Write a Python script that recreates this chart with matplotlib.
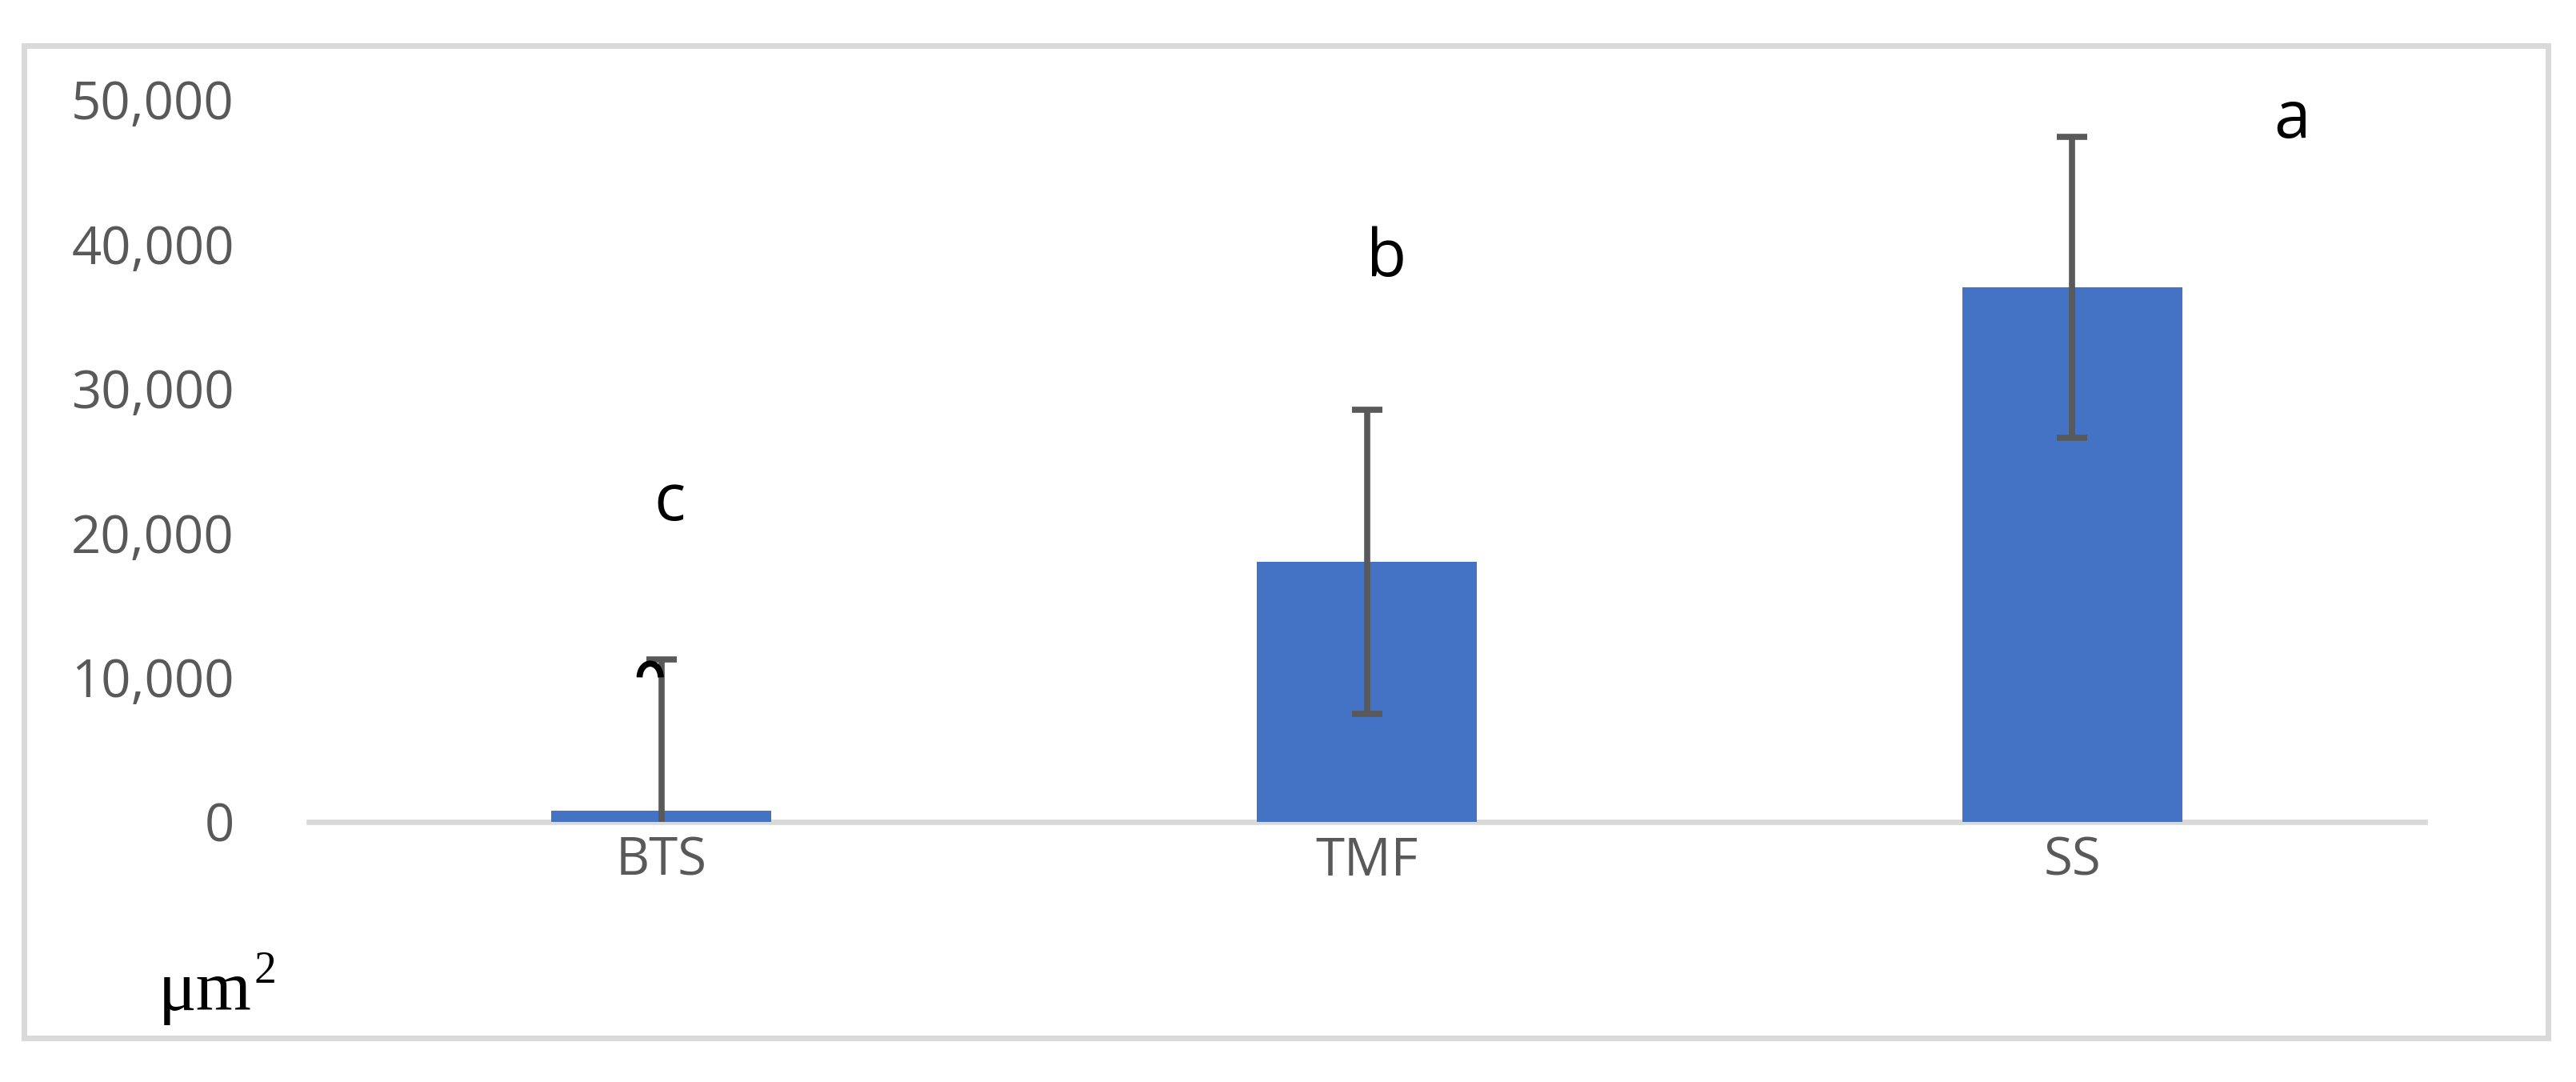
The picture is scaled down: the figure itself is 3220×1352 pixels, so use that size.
import matplotlib
matplotlib.use("Agg")
import matplotlib.pyplot as plt
from matplotlib.patches import Arc, Rectangle
from matplotlib.ticker import FuncFormatter

# data
categories = ["BTS", "TMF", "SS"]
mean_area = [750, 18000, 37000]
sd_area = [10500, 10500, 10400]

# significance letters and where they sit (data coords)
sig_letters = ["c", "b", "a"]
letter_x = [0.012, 1.028, 2.312]
letter_y = [20870, 37740, 47340]

y_ticks = [0, 10000, 20000, 30000, 40000, 50000]

BAR_COLOR = "#4472C4"
ERR_COLOR = "#595959"
GRID_COLOR = "#D9D9D9"
TEXT_GRAY = "#595959"

W, H = 3220, 1352
fig = plt.figure(figsize=(W / 100, H / 100), dpi=100)

# outer chart-area border
fig.patches.append(Rectangle((30 / W, 1 - 1297 / H), (3185 - 30) / W, (1297 - 57) / H,
                             transform=fig.transFigure, fill=False,
                             edgecolor=GRID_COLOR, linewidth=5))

ax = fig.add_axes([386 / W, 1 - 1027 / H, (3031 - 386) / W, (1027 - 124) / H])

x = list(range(len(categories)))
ax.bar(x, mean_area, width=0.312, color=BAR_COLOR, zorder=2)
ax.errorbar(x, mean_area, yerr=sd_area, fmt="none", ecolor=ERR_COLOR,
            elinewidth=5.5, capsize=13.7, capthick=5.5, zorder=3)

for lx, ly, lab in zip(letter_x, letter_y, sig_letters):
    ax.text(lx, ly, lab, ha="center", va="baseline", fontsize=59,
            family="Open Sans", color="black")

# stray glyph fragment next to the BTS error bar
ax.add_patch(Arc((-0.016, 10000), 0.030, 1900, theta1=10, theta2=190,
                 color="black", linewidth=5.5, zorder=4))

ax.set_xlim(-0.5, 2.5)
ax.set_ylim(0, 50000)
ax.set_xticks(x)
ax.set_xticklabels(categories)
ax.set_yticks(y_ticks)
ax.yaxis.set_major_formatter(FuncFormatter(lambda v, p: f"{v:,.0f}"))

for side in ["top", "right", "left"]:
    ax.spines[side].set_visible(False)
ax.spines["bottom"].set_color(GRID_COLOR)
ax.spines["bottom"].set_linewidth(4.8)
ax.spines["bottom"].set_zorder(1)

ax.tick_params(axis="y", length=0, pad=67, labelsize=47, labelcolor=TEXT_GRAY)
ax.tick_params(axis="x", length=0, pad=12, labelsize=47, labelcolor=TEXT_GRAY)
for t in ax.get_xticklabels() + ax.get_yticklabels():
    t.set_family("Open Sans")

# unit label: "μm" with a raised "2" placed just after it
unit = fig.text(198 / W, 1 - 1262 / H, "\u03bcm", ha="left", va="baseline",
                fontsize=64, family="Liberation Serif", color="black")
fig.canvas.draw()
ubox = unit.get_window_extent()
fig.text(ubox.x1 / W + 3 / W, 1 - 1228 / H, "2", ha="left", va="baseline",
         fontsize=40, family="Liberation Serif", color="black")

fig.savefig("out.png", dpi=100)
